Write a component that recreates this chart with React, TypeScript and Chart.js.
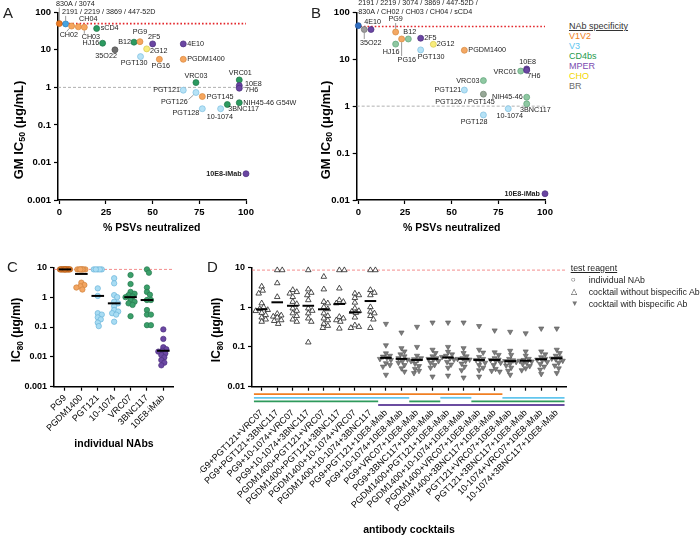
import React, { useEffect, useRef } from 'react';
import { Chart, registerables } from 'chart.js';
Chart.register(...registerables);

const FONT = '"Liberation Sans", Arial, Helvetica, sans-serif';

// ---------------- Panel A : GM IC50 vs breadth ----------------
const nabNamesA = [
  '830A / 3074', '2191 / 2219 / 3869 / 447-52D', 'CH02', 'CH04', 'CH03', 'sCD4', 'HJ16', '35O22',
  'B12', 'PG9', '2F5', '2G12', 'PGT130', 'PG16', '4E10', 'PGDM1400', 'VRC03', 'VRC01', '10E8', '7H6',
  'PGT121', 'PGT126', 'PGT145', 'NIH45-46 G54W', 'PGT128', '10-1074', '3BNC117', '10E8-iMab',
];
const breadthA = [0, 3.4, 6.6, 10.2, 13.4, 20, 23.2, 29.8, 40, 43.2, 50, 46.8, 43.5, 53.6, 66.4, 66.4, 73.2, 96.4, 96.4, 96.4, 66.4, 73.2, 76.6, 96.4, 76.6, 86.4, 90, 100];
const gmIC50 = [50, 49, 43, 41, 40, 37, 15, 10, 16, 16.5, 14.4, 10.6, 6.6, 5.6, 14.4, 5.6, 1.34, 1.58, 1.12, 0.95, 0.84, 0.73, 0.57, 0.39, 0.27, 0.27, 0.35, 0.005];
const specificityA = [
  'V1V2dk', 'V3dk', 'V1V2', 'V1V2', 'V1V2', 'CD4bs', 'CD4bs', 'BR', 'CD4bs', 'V1V2', 'MPER', 'CHO', 'V3', 'V1V2',
  'MPER', 'V1V2', 'CD4bs', 'CD4bs', 'MPER', 'MPER', 'V3', 'V3', 'V1V2', 'CD4bs', 'V3', 'V3', 'CD4bs', 'MPER',
];

// ---------------- Panel B : GM IC80 vs breadth ----------------
const nabNamesB = [
  '2191 / 2219 / 3074 / 3869 / 447-52D /\n830A / CH02 / CH03 / CH04 / sCD4', '35O22', '4E10', 'PG9', 'PG16', 'HJ16', 'B12',
  '2F5', '2G12', 'PGT130', 'PGDM1400', 'VRC01', '10E8', '7H6', 'VRC03', 'PGT121', 'PGT126 / PGT145', 'NIH45-46',
  '3BNC117', '10-1074', 'PGT128', '10E8-iMab',
];
const breadthB = [0, 3.2, 6.8, 20, 23.2, 20, 26.8, 33.4, 40.2, 33.4, 56.8, 87, 90.2, 90.2, 67, 56.8, 67, 90.2, 90.2, 80.3, 67, 100];
const gmIC80 = [52, 43, 43, 38, 27, 21, 27, 28, 20.8, 15.8, 15.5, 5.6, 6.2, 5.8, 3.5, 2.2, 1.8, 1.55, 1.12, 0.88, 0.65, 0.0136];
const specificityB = [
  'V3dk', 'BR', 'MPER', 'V1V2', 'V1V2', 'CD4bs', 'CD4bs', 'MPER', 'CHO', 'V3', 'V1V2', 'CD4bs', 'MPER', 'MPER',
  'CD4bs', 'V3', 'mix', 'CD4bs', 'CD4bs', 'V3', 'V3', 'MPER',
];

const topConcentrationAB = 50;
const referenceIC = 1;
const yTicksA = [0.001, 0.01, 0.1, 1, 10, 100];
const yTicksB = [0.01, 0.1, 1, 10, 100];
const xTicksAB = [0, 25, 50, 75, 100];

// ---------------- Panel C : individual NAbs ----------------
const individualNAbs = ['PG9', 'PGDM1400', 'PGT121', '10-1074', 'VRC07', '3BNC117', '10E8-iMab'];
const ic80_PG9 = [8.5, 8.5, 8.5, 8.5, 8.5, 8.5, 8.5, 8.5, 8.5, 8.5, 8.5, 8.5];
const ic80_PGDM1400 = [8.5, 8.5, 8.5, 8.5, 8.5, 8.5, 8.5, 3.05, 2.55, 2.3, 2.1, 1.8];
const ic80_PGT121 = [8.5, 8.5, 8.5, 8.5, 8.5, 1.97, 1.1, 0.29, 0.26, 0.21, 0.18, 0.14, 0.107];
const ic80_10_1074 = [4.3, 2.9, 1.17, 1.0, 0.7, 0.62, 0.5, 0.37, 0.33, 0.29, 0.26, 0.15];
const ic80_VRC07 = [5.5, 2.75, 1.5, 1.3, 1.17, 1.05, 1.0, 0.8, 0.7, 0.62, 0.55, 0.23];
const ic80_3BNC117 = [8.5, 6.6, 2.1, 1.5, 1.2, 0.8, 0.8, 0.37, 0.26, 0.26, 0.115, 0.115];
const ic80_10E8iMab = [0.083, 0.04, 0.021, 0.018, 0.016, 0.015, 0.013, 0.0115, 0.0096, 0.0078, 0.0064, 0.0052];
const mediansC = [8.5, 6.0, 1.1, 0.62, 1.0, 0.8, 0.016];
const specificityC = ['V1V2dk', 'V1V2', 'V3', 'V3', 'CD4bs', 'CD4bs', 'MPER'];
const yTicksC = [0.001, 0.01, 0.1, 1, 10];
const maxTested = 8.5;

// ---------------- Panel D : antibody cocktails ----------------
const cocktails = [
  'PG9+PGT121+VRC07', 'PG9+PGT121+3BNC117', 'PG9+10-1074+VRC07', 'PG9+10-1074+3BNC117',
  'PGDM1400+PGT121+VRC07', 'PGDM1400+PGT121+3BNC117', 'PGDM1400+10-1074+VRC07', 'PGDM1400+10-1074+3BNC117',
  'PG9+PGT121+10E8-iMab', 'PG9+10-1074+10E8-iMab', 'PG9+VRC07+10E8-iMab', 'PG9+3BNC117+10E8-iMab',
  'PGDM1400+PGT121+10E8-iMab', 'PGDM1400+10-1074+10E8-iMab', 'PGDM1400+VRC07+10E8-iMab', 'PGDM1400+3BNC117+10E8-iMab',
  'PGT121+VRC07+10E8-iMab', 'PGT121+3BNC117+10E8-iMab', '10-1074+VRC07+10E8-iMab', '10-1074+3BNC117+10E8-iMab',
];
const ic80_withoutBispecific = [
  [3.3, 2.6, 2.2, 1.25, 1.0, 0.9, 0.85, 0.8, 0.72, 0.63, 0.55, 0.49, 0.43],
  [8.5, 8.5, 4.0, 1.8, 0.68, 0.62, 0.58, 0.55, 0.47, 0.45, 0.38],
  [2.7, 2.4, 2.2, 1.8, 1.36, 1.2, 0.93, 0.81, 0.7, 0.6, 0.49, 0.43],
  [8.5, 2.8, 2.3, 2.0, 1.5, 0.93, 0.81, 0.7, 0.52, 0.43, 0.13],
  [5.8, 2.8, 1.36, 1.25, 1.0, 0.89, 0.7, 0.6, 0.52, 0.47, 0.38, 0.34, 0.3],
  [8.5, 8.5, 2.95, 1.5, 1.36, 1.25, 0.57, 0.52, 0.47, 0.43, 0.29],
  [2.2, 2.0, 1.7, 1.3, 0.93, 0.8, 0.77, 0.72, 0.55, 0.35, 0.32, 0.3],
  [8.5, 8.5, 2.7, 2.3, 2.0, 1.0, 0.77, 0.7, 0.6, 0.49, 0.3],
];
const ic80_withBispecific = [
  [0.38, 0.11, 0.069, 0.06, 0.057, 0.053, 0.05, 0.047, 0.039, 0.035, 0.032, 0.02],
  [0.23, 0.093, 0.077, 0.065, 0.058, 0.052, 0.048, 0.044, 0.04, 0.035, 0.029, 0.024],
  [0.32, 0.1, 0.06, 0.052, 0.049, 0.047, 0.044, 0.038, 0.033, 0.028, 0.025, 0.022],
  [0.41, 0.085, 0.07, 0.058, 0.052, 0.05, 0.048, 0.044, 0.04, 0.035, 0.03, 0.018],
  [0.41, 0.1, 0.075, 0.065, 0.06, 0.056, 0.052, 0.048, 0.042, 0.036, 0.03, 0.019],
  [0.41, 0.093, 0.07, 0.058, 0.052, 0.05, 0.048, 0.044, 0.038, 0.032, 0.026, 0.017],
  [0.335, 0.085, 0.072, 0.056, 0.05, 0.047, 0.045, 0.04, 0.035, 0.03, 0.026, 0.018],
  [0.26, 0.073, 0.063, 0.052, 0.048, 0.047, 0.044, 0.04, 0.035, 0.028, 0.025, 0.024],
  [0.24, 0.08, 0.063, 0.05, 0.046, 0.044, 0.042, 0.038, 0.034, 0.03, 0.025, 0.02],
  [0.22, 0.077, 0.06, 0.05, 0.047, 0.045, 0.043, 0.04, 0.037, 0.033, 0.029, 0.026],
  [0.29, 0.077, 0.065, 0.055, 0.05, 0.048, 0.046, 0.042, 0.037, 0.032, 0.027, 0.021],
  [0.29, 0.085, 0.07, 0.06, 0.054, 0.051, 0.049, 0.045, 0.04, 0.034, 0.029, 0.022],
];
const mediansD = [0.88, 1.32, 1.08, 1.08, 0.88, 1.2, 0.74, 1.42, 0.053, 0.05, 0.047, 0.05, 0.054, 0.05, 0.047, 0.047, 0.044, 0.045, 0.049, 0.052];
const yTicksD = [0.01, 0.1, 1, 10];

// ---------------- styles ----------------
const COLORS_A: Record<string, [string, string]> = {
  V1V2: ['#f6a65e', '#d9873c'], V1V2dk: ['#ec7a22', '#c25f10'], V3: ['#b6e2f6', '#7dbfe0'],
  V3dk: ['#46a4e2', '#2b7fb8'], CD4bs: ['#2c9a60', '#1d7546'], MPER: ['#6a46a2', '#4b2d7e'],
  CHO: ['#f8ec7c', '#d6c64b'], BR: ['#6e6e6e', '#4c4c4c'],
};
const COLORS_B: Record<string, [string, string]> = {
  V1V2: ['#f4a864', '#d4883e'], V3: ['#b6e2f6', '#7dbfe0'], V3dk: ['#2f6ec2', '#1e4f93'],
  CD4bs: ['#8fc8a2', '#5ea478'], MPER: ['#6a46a2', '#4b2d7e'], CHO: ['#f8ec7c', '#d6c64b'],
  BR: ['#9b9b9b', '#707070'], mix: ['#97a897', '#6f826f'],
};
const COLORS_C: Record<string, [string, string]> = {
  V1V2dk: ['#e07b2a', '#b85e17'], V1V2: ['#f3a662', '#d0833d'], V3: ['#a8dcf3', '#6cb5da'],
  CD4bs: ['#3aa06a', '#2a7a50'], MPER: ['#6b48a3', '#4d2f80'],
};

type LL = [number, number, CanvasTextAlign];
const labelLayoutA: LL[] = [
  [-3.3, -20, 'left'], [-3.7, -12, 'left'], [-12, 9, 'left'], [0.7, -7.7, 'left'], [-2.6, 10, 'left'],
  [4, 0, 'left'], [-3.4, 0, 'right'], [2, 6, 'right'], [-3, 0, 'right'], [0, -9.4, 'center'],
  [-4.7, -6.7, 'left'], [3.3, 1.7, 'left'], [7, 6, 'right'], [1.4, 6.7, 'center'], [4, 0, 'left'],
  [4, 0, 'left'], [0, -7, 'center'], [1, -6.5, 'center'], [5.7, -1.4, 'left'], [5.7, 2, 'left'],
  [-3.3, 0, 'right'], [-8.3, 9.3, 'right'], [4.4, 0, 'left'], [4, 0, 'left'], [-3, 4.3, 'right'],
  [-0.7, 8.3, 'center'], [1, 4.3, 'left'], [-4.3, 0, 'right'],
];
const connectorsA: [number, number, number, number, number][] = [
  [0, 0, -3, 0, -16], [1, 0, -3.3, 0, -8], [2, -2.3, 2.3, -5, 5.5], [21, -2.5, 2.5, -7.5, 7], [4, 0, 3.3, 0, 6.5],
];
const labelLayoutB: LL[] = [
  [0, -22.4, 'left'], [-4.3, 13.4, 'left'], [-6.7, -7, 'left'], [0, -12.7, 'center'], [-4, 21, 'left'],
  [-13, 7.7, 'left'], [-5, -6.7, 'left'], [3.5, 0, 'left'], [3.5, 0, 'left'], [-3, 6.7, 'left'],
  [4, 0, 'left'], [-4, 0.7, 'right'], [-7.4, -6.7, 'left'], [0.5, 6, 'left'], [-4, 0, 'right'],
  [-3, 0, 'right'], [-18.3, 8, 'center'], [-4, 0, 'right'], [-6.7, 6.3, 'left'], [-11.6, 7.3, 'left'],
  [-9.3, 7.3, 'center'], [-5, 0, 'right'],
];
const connectorsB: [number, number, number, number, number][] = [
  [1, 0, 3.3, 0, 9.5], [3, 0, -3.3, 0, -9], [4, 0, 3.3, 0, 17],
];

function swarmOffsets(values: number[], pxPerDecade: number, pxPerUnit: number, minSep: number, maxOff: number) {
  const idx = values.map((_, i) => i).sort((a, b) => values[b] - values[a]);
  const placed: { x: number; y: number }[] = [];
  const out = new Array(values.length).fill(0);
  const cands: number[] = [0];
  for (let k = 1; k <= maxOff + 1e-9; k += 1) cands.push(k, -k);
  for (const i of idx) {
    const y = Math.log10(values[i]) * pxPerDecade;
    let chosen = 0;
    let best = -1;
    for (const c of cands) {
      let md = Infinity;
      for (const p of placed) {
        const d = Math.hypot(p.x - c, p.y - y);
        if (d < md) md = d;
      }
      if (md >= minSep) { chosen = c; break; }
      if (md > best) { best = md; chosen = c; }
    }
    placed.push({ x: chosen, y });
    out[i] = chosen / pxPerUnit;
  }
  return out;
}

function axisBase(size: number, bold = true) {
  return {
    grid: { display: true, drawOnChartArea: false, drawTicks: true, tickLength: 4, tickWidth: 1.2, tickColor: '#000', color: '#000' },
    border: { display: true, color: '#000', width: 1.5 },
    ticks: { color: '#000', padding: 3, autoSkip: false, font: { family: FONT, size, weight: bold ? 'bold' : 'normal' } },
  };
}

function logAxis(min: number, max: number, ticks: number[], width: number, size: number) {
  const b = axisBase(size);
  return {
    type: 'logarithmic', min, max, grid: b.grid, border: b.border,
    ticks: { ...b.ticks, callback: (v: number) => String(v) },
    afterBuildTicks: (s: any) => { s.ticks = ticks.map((v) => ({ value: v })); },
    afterFit: (s: any) => { s.width = width; s.paddingTop = 0; s.paddingBottom = 0; },
  };
}

function drawYTitle(ctx: CanvasRenderingContext2D, parts: [string, boolean][], x: number, y: number, size: number) {
  ctx.save();
  ctx.translate(x, y);
  ctx.rotate(-Math.PI / 2);
  const sub = size * 0.68;
  const widths = parts.map(([t, s]) => { ctx.font = `bold ${s ? sub : size}px ${FONT}`; return ctx.measureText(t).width; });
  let cx = -widths.reduce((a, b) => a + b, 0) / 2;
  ctx.fillStyle = '#000';
  ctx.textAlign = 'left';
  ctx.textBaseline = 'alphabetic';
  parts.forEach(([t, s], i) => {
    ctx.font = `bold ${s ? sub : size}px ${FONT}`;
    ctx.fillText(t, cx, s ? size * 0.55 : size * 0.36);
    cx += widths[i];
  });
  ctx.restore();
}

function drawXTitle(ctx: CanvasRenderingContext2D, text: string, x: number, y: number, size: number) {
  ctx.save();
  ctx.font = `bold ${size}px ${FONT}`;
  ctx.fillStyle = '#000';
  ctx.textAlign = 'center';
  ctx.textBaseline = 'middle';
  ctx.fillText(text, x, y);
  ctx.restore();
}

function hLine(chart: any, value: number, color: string, width: number, dash: number[]) {
  const { ctx, chartArea: ca, scales } = chart;
  const py = scales.y.getPixelForValue(value);
  ctx.save();
  ctx.strokeStyle = color;
  ctx.lineWidth = width;
  ctx.setLineDash(dash);
  ctx.beginPath();
  ctx.moveTo(ca.left, py);
  ctx.lineTo(ca.right, py);
  ctx.stroke();
  ctx.restore();
}

interface BreadthP {
  names: string[]; xs: number[]; ys: number[]; specs: string[]; colors: Record<string, [string, string]>;
  yMin: number; yTicks: number[]; yWidth: number; xMin: number; padRight: number;
  layout: LL[]; conns: [number, number, number, number, number][];
  yTitle: [string, boolean][]; yTitleX: number; titleY: number; xTitleX: number;
}

function makeBreadth(p: BreadthP) {
  const b = axisBase(9.5);
  return {
    type: 'scatter',
    data: {
      datasets: [{
        data: p.xs.map((x, i) => ({ x, y: p.ys[i] })),
        pointRadius: 3,
        pointBackgroundColor: p.specs.map((s) => p.colors[s][0]),
        pointBorderColor: p.specs.map((s) => p.colors[s][1]),
        pointBorderWidth: 0.7,
        clip: false,
      }],
    },
    options: {
      animation: false, responsive: false, maintainAspectRatio: false, devicePixelRatio: 1, events: [],
      layout: { padding: { left: 0, right: p.padRight, top: 12.3, bottom: 0 } },
      plugins: { legend: { display: false }, tooltip: { enabled: false } },
      scales: {
        x: {
          type: 'linear', min: p.xMin, max: 100, grid: b.grid, border: b.border,
          ticks: { ...b.ticks, padding: 3 },
          afterBuildTicks: (s: any) => { s.ticks = xTicksAB.map((v) => ({ value: v })); },
          afterFit: (s: any) => { s.height = 40; s.paddingLeft = 0; s.paddingRight = 0; },
        },
        y: logAxis(p.yMin, 100, p.yTicks, p.yWidth, 9.5),
      },
    },
    plugins: [{
      id: 'breadthExtras',
      beforeDatasetsDraw(chart: any) {
        hLine(chart, referenceIC, '#9a9a9a', 0.8, [3, 2]);
        hLine(chart, topConcentrationAB, '#e3262b', 1.6, [1.6, 2]);
      },
      afterDatasetsDraw(chart: any) {
        const ctx = chart.ctx;
        const meta = chart.getDatasetMeta(0);
        ctx.save();
        ctx.strokeStyle = '#555';
        ctx.lineWidth = 0.6;
        p.conns.forEach(([i, x1, y1, x2, y2]) => {
          const el = meta.data[i];
          ctx.beginPath();
          ctx.moveTo(el.x + x1, el.y + y1);
          ctx.lineTo(el.x + x2, el.y + y2);
          ctx.stroke();
        });
        ctx.fillStyle = '#222';
        ctx.textBaseline = 'middle';
        p.names.forEach((name, i) => {
          const el = meta.data[i];
          const [dx, dy, align] = p.layout[i];
          ctx.font = `${name === '10E8-iMab' ? 'bold ' : ''}7.2px ${FONT}`;
          ctx.textAlign = align;
          name.split('\n').forEach((line, k) => ctx.fillText(line, el.x + dx, el.y + dy + k * 8.4));
        });
        ctx.restore();
      },
      afterDraw(chart: any) {
        drawYTitle(chart.ctx, p.yTitle, p.yTitleX, p.titleY, 13);
        drawXTitle(chart.ctx, '% PSVs neutralized', p.xTitleX, 228, 10.5);
      },
    }],
  };
}

const makeA = () => makeBreadth({
  names: nabNamesA, xs: breadthA, ys: gmIC50, specs: specificityA, colors: COLORS_A,
  yMin: 0.001, yTicks: yTicksA, yWidth: 58, xMin: -0.7, padRight: 54,
  layout: labelLayoutA, conns: connectorsA,
  yTitle: [['GM IC', false], ['50', true], [' (μg/mL)', false]], yTitleX: 18, titleY: 130, xTitleX: 151.7,
});
const makeB = () => makeBreadth({
  names: nabNamesB, xs: breadthB, ys: gmIC80, specs: specificityB, colors: COLORS_B,
  yMin: 0.01, yTicks: yTicksB, yWidth: 56.7, xMin: -0.86, padRight: 15,
  layout: labelLayoutB, conns: connectorsB,
  yTitle: [['GM IC', false], ['80', true], [' (μg/mL)', false]], yTitleX: 25, titleY: 130, xTitleX: 151.7,
});

const IC80_TITLE: [string, boolean][] = [['IC', false], ['80', true], [' (μg/ml)', false]];

function makeC() {
  const cols = [ic80_PG9, ic80_PGDM1400, ic80_PGT121, ic80_10_1074, ic80_VRC07, ic80_3BNC117, ic80_10E8iMab];
  const pts: { x: number; y: number }[] = [];
  const fills: string[] = [];
  const borders: string[] = [];
  cols.forEach((vals, c) => {
    const off = swarmOffsets(vals, 29.8, 16.39, 3.6, 5);
    vals.forEach((v, k) => {
      pts.push({ x: c + off[k], y: v });
      fills.push(COLORS_C[specificityC[c]][0]);
      borders.push(COLORS_C[specificityC[c]][1]);
    });
  });
  const b = axisBase(9);
  const bx = axisBase(9, false);
  return {
    type: 'scatter',
    data: {
      datasets: [
        { data: mediansC.map((m, c) => ({ x: c, y: m })), pointStyle: 'line', pointRadius: 6.3, pointBorderWidth: 2, pointBorderColor: '#000', clip: false },
        { data: pts, pointRadius: 2.7, pointBackgroundColor: fills, pointBorderColor: borders, pointBorderWidth: 0.7, clip: false },
      ],
    },
    options: {
      animation: false, responsive: false, maintainAspectRatio: false, devicePixelRatio: 1, events: [],
      layout: { padding: { left: 0, right: 27, top: 17.3, bottom: 0 } },
      plugins: { legend: { display: false }, tooltip: { enabled: false } },
      scales: {
        x: {
          type: 'linear', min: -0.67, max: 6.59, grid: b.grid, border: b.border,
          ticks: { ...bx.ticks, padding: 2, minRotation: 45, maxRotation: 45, callback: (v: number) => individualNAbs[v] },
          afterBuildTicks: (s: any) => { s.ticks = individualNAbs.map((_, i) => ({ value: i })); },
          afterFit: (s: any) => { s.height = 73.3; s.paddingLeft = 0; s.paddingRight = 0; },
        },
        y: logAxis(0.001, 10, yTicksC, 54, 9),
      },
    },
    plugins: [{
      id: 'cExtras',
      beforeDatasetsDraw(chart: any) { hLine(chart, maxTested, '#f07070', 0.8, [3, 2]); },
      afterDraw(chart: any) {
        drawYTitle(chart.ctx, IC80_TITLE, 16, 80, 12);
        drawXTitle(chart.ctx, 'individual NAbs', 114, 194.3, 10.5);
      },
    }],
  };
}

const compositionRows = [
  { color: '#f07f22', re: /PG9|PGDM1400/ },
  { color: '#62c6ee', re: /PGT121|10-1074/ },
  { color: '#2f9a5c', re: /VRC07|3BNC117/ },
  { color: '#6b4ca0', re: /10E8-iMab/ },
];

function makeD() {
  const openPts: { x: number; y: number }[] = [];
  const fillPts: { x: number; y: number }[] = [];
  let iNo = 0;
  let iBs = 0;
  cocktails.forEach((name, c) => {
    const bs = name.includes('10E8-iMab');
    const vals = bs ? ic80_withBispecific[iBs++] : ic80_withoutBispecific[iNo++];
    const off = swarmOffsets(vals, 39.8, 15.53, 4.2, 6);
    vals.forEach((v, k) => (bs ? fillPts : openPts).push({ x: c + 1 + off[k], y: v }));
  });
  const b = axisBase(9);
  const bx = axisBase(9, false);
  return {
    type: 'scatter',
    data: {
      datasets: [
        { data: mediansD.map((m, c) => ({ x: c + 1, y: m })), pointStyle: 'line', pointRadius: 5.8, pointBorderWidth: 2, pointBorderColor: '#000', clip: false },
        { data: openPts, pointStyle: 'triangle', pointRadius: 3.2, pointBackgroundColor: '#fff', pointBorderColor: '#222', pointBorderWidth: 0.8, clip: false },
        { data: fillPts, pointStyle: 'triangle', rotation: 180, pointRotation: 180, pointRadius: 3, pointBackgroundColor: '#7d7d7d', pointBorderColor: '#555', pointBorderWidth: 0.6, clip: false },
      ],
    },
    options: {
      animation: false, responsive: false, maintainAspectRatio: false, devicePixelRatio: 1, events: [],
      layout: { padding: { left: 0, right: 133.3, top: 17.3, bottom: 0 } },
      plugins: { legend: { display: false }, tooltip: { enabled: false } },
      scales: {
        x: {
          type: 'linear', min: 0.375, max: 20.64, grid: b.grid, border: b.border,
          ticks: { ...bx.ticks, padding: 17, minRotation: 45, maxRotation: 45, callback: (v: number) => cocktails[v - 1] },
          afterBuildTicks: (s: any) => { s.ticks = cocktails.map((_, i) => ({ value: i + 1 })); },
          afterFit: (s: any) => { s.height = 149.3; s.paddingLeft = 0; s.paddingRight = 0; },
        },
        y: logAxis(0.01, 10, yTicksD, 52, 9),
      },
    },
    plugins: [{
      id: 'dExtras',
      beforeDatasetsDraw(chart: any) { hLine(chart, maxTested, '#f07070', 0.8, [3, 2]); },
      afterDraw(chart: any) {
        const { ctx, chartArea: ca, scales } = chart;
        ctx.save();
        ctx.lineWidth = 1.8;
        compositionRows.forEach((row, r) => {
          const y = ca.bottom + 7.5 + r * 3.6;
          ctx.strokeStyle = row.color;
          let start = -1;
          for (let c = 0; c <= cocktails.length; c++) {
            const on = c < cocktails.length && row.re.test(cocktails[c]);
            if (on && start < 0) start = c;
            if (!on && start >= 0) {
              const x1 = Math.max(ca.left, scales.x.getPixelForValue(start + 0.5));
              const x2 = Math.min(ca.right, scales.x.getPixelForValue(c + 0.5));
              ctx.beginPath();
              ctx.moveTo(x1, y);
              ctx.lineTo(x2, y);
              ctx.stroke();
              start = -1;
            }
          }
        });
        ctx.restore();
        drawYTitle(ctx, IC80_TITLE, 16, 80, 12);
        drawXTitle(ctx, 'antibody cocktails', 209, 280, 10.5);
      },
    }],
  };
}

function ChartCanvas({ left, top, width, height, make }: { left: number; top: number; width: number; height: number; make: () => any }) {
  const ref = useRef<HTMLCanvasElement>(null);
  useEffect(() => {
    const chart = new Chart(ref.current as HTMLCanvasElement, make());
    return () => chart.destroy();
  }, []);
  return <canvas ref={ref} width={width} height={height} style={{ position: 'absolute', left, top, width, height, display: 'block' }} />;
}

const legendSpec: [string, string][] = [
  ['V1V2', '#f07f22'], ['V3', '#5ec6f0'], ['CD4bs', '#1e9a4c'], ['MPER', '#7a4cb0'], ['CHO', '#f2d600'], ['BR', '#6b6b6b'],
];
const legendReagent: [string, string, string][] = [
  ['○', '#333', 'individual NAb'], ['△', '#333', 'cocktail without bispecific Ab'], ['▼', '#777', 'cocktail with bispecific Ab'],
];

export default function App() {
  const letter = (t: string, left: number, top: number) => (
    <div style={{ position: 'absolute', left, top, fontSize: 15, lineHeight: '15px', color: '#222' }}>{t}</div>
  );
  return (
    <div style={{ position: 'fixed', left: 0, top: 0, width: 700, height: 536, background: '#fff', fontFamily: FONT, overflow: 'hidden' }}>
      <ChartCanvas left={0} top={0} width={300} height={240} make={makeA} />
      <ChartCanvas left={300} top={0} width={260} height={240} make={makeB} />
      <ChartCanvas left={0} top={250} width={200} height={210} make={makeC} />
      <ChartCanvas left={200} top={250} width={500} height={286} make={makeD} />
      {letter('A', 3, 5)}
      {letter('B', 311, 5)}
      {letter('C', 7, 259)}
      {letter('D', 207, 259)}
      <div style={{ position: 'absolute', left: 569, top: 21, fontSize: 9, lineHeight: '10px' }}>
        <div style={{ textDecoration: 'underline', color: '#333' }}>NAb specificity</div>
        {legendSpec.map(([t, c]) => <div key={t} style={{ color: c }}>{t}</div>)}
      </div>
      <div style={{ position: 'absolute', left: 570.7, top: 262, fontSize: 8.8, lineHeight: '12px', color: '#222' }}>
        <div style={{ textDecoration: 'underline' }}>test reagent</div>
        {legendReagent.map(([s, c, t]) => (
          <div key={t} style={{ display: 'flex', alignItems: 'center' }}>
            <span style={{ width: 18, fontSize: 8, color: c, textAlign: 'left', paddingLeft: 0 }}>{s}</span>
            <span>{t}</span>
          </div>
        ))}
      </div>
    </div>
  );
}
